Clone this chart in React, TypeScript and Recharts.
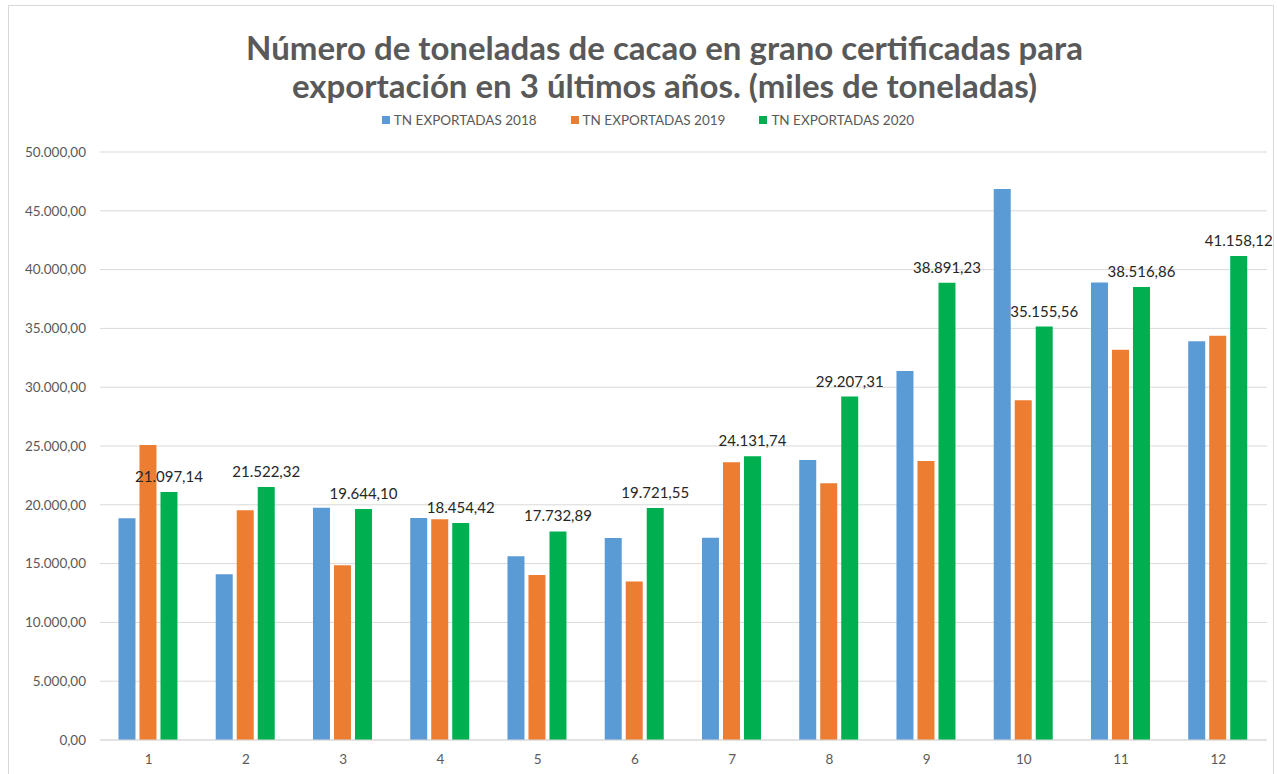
import React from "react";
import { BarChart, Bar, XAxis, YAxis, CartesianGrid, LabelList } from "recharts";

const categories = ["1", "2", "3", "4", "5", "6", "7", "8", "9", "10", "11", "12"];
const tn2018 = [18850, 14100, 19750, 18880, 15620, 17180, 17200, 23820, 31380, 46850, 38900, 33900];
const tn2019 = [25080, 19540, 14860, 18780, 14020, 13480, 23620, 21830, 23720, 28900, 33180, 34380];
const tn2020 = [21097.14, 21522.32, 19644.1, 18454.42, 17732.89, 19721.55, 24131.74, 29207.31, 38891.23, 35155.56, 38516.86, 41158.12];
const yTicks = [0, 5000, 10000, 15000, 20000, 25000, 30000, 35000, 40000, 45000, 50000];
const seriesNames = ["TN EXPORTADAS 2018", "TN EXPORTADAS 2019", "TN EXPORTADAS 2020"];
const colors = ["#5B9BD5", "#ED7D31", "#00B050"];

const data = categories.map((c, i) => ({ cat: c, a: tn2018[i], b: tn2019[i], c: tn2020[i] }));

function fmt(v: number): string {
  const fixed = Math.abs(v).toFixed(2);
  const [ip, dp] = fixed.split(".");
  const withDots = ip.replace(/\B(?=(\d{3})+(?!\d))/g, ".");
  return (v < 0 ? "-" : "") + withDots + "," + dp;
}

const font = "Lato, 'Open Sans', sans-serif";

export default function App() {
  return (
    <div style={{ position: "absolute", left: 0, top: 0, width: 1277, height: 774, background: "#fff", overflow: "hidden", fontFamily: font }}>
      <div style={{ position: "absolute", left: 8, top: 5, width: 1266, height: 800, border: "1px solid #D9D9D9", boxSizing: "border-box" }} />
      <div style={{ position: "absolute", left: 0, top: 28, width: 1329, textAlign: "center", fontSize: 33, fontWeight: 700, color: "#595959", lineHeight: "38px" }}>
        Número de toneladas de cacao en grano certificadas para
        <br />
        exportación en 3 últimos años. (miles de toneladas)
      </div>
      <div style={{ position: "absolute", left: 0, top: 112, width: 1296, display: "flex", justifyContent: "center", fontSize: 13.5, color: "#595959" }}>
        {seriesNames.map((n, i) => (
          <div key={n} style={{ display: "flex", alignItems: "center", marginRight: i < 2 ? 34 : 0 }}>
            <span style={{ display: "inline-block", width: 8, height: 8, background: colors[i], marginRight: 4 }} />
            <span>{n}</span>
          </div>
        ))}
      </div>
      <div style={{ position: "absolute", left: 0, top: 0 }}>
        <BarChart width={1277} height={774} data={data} margin={{ top: 152, right: 10, bottom: 4, left: 0 }} barCategoryGap="19%" barGap={4}>
          <CartesianGrid vertical={false} stroke="#D9D9D9" strokeWidth={1} />
          <XAxis dataKey="cat" axisLine={{ stroke: "#D9D9D9" }} tickLine={false} height={30} tick={{ fill: "#595959", fontSize: 13.5, fontFamily: font }} dy={6} />
          <YAxis width={100} domain={[0, 50000]} ticks={yTicks} tickFormatter={fmt} axisLine={false} tickLine={false} tick={{ fill: "#595959", fontSize: 13.5, fontFamily: font }} dx={-6} interval={0} />
          <Bar dataKey="a" fill={colors[0]} isAnimationActive={false} />
          <Bar dataKey="b" fill={colors[1]} isAnimationActive={false} />
          <Bar dataKey="c" fill={colors[2]} isAnimationActive={false}>
            <LabelList dataKey="c" position="top" offset={10} formatter={(v: any) => fmt(Number(v))} style={{ fill: "#262626", fontSize: 15, fontFamily: font }} />
          </Bar>
        </BarChart>
      </div>
    </div>
  );
}
